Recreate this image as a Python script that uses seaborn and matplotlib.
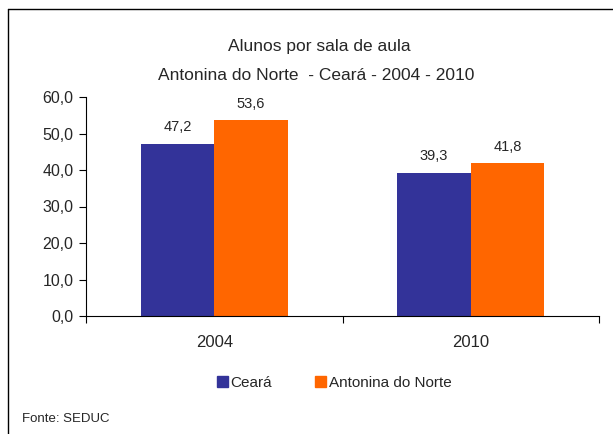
import matplotlib
matplotlib.use("Agg")
import matplotlib.pyplot as plt
import seaborn as sns
import pandas as pd
from matplotlib.lines import Line2D

years = ["2004", "2010"]
series = ["Ceará", "Antonina do Norte"]
ceara = [47.2, 39.3]
antonina = [53.6, 41.8]
yticks = [0, 10, 20, 30, 40, 50, 60]
colors = ["#333399", "#FF6600"]

df = pd.DataFrame({
    "Ano": years * 2,
    "Serie": [series[0]] * 2 + [series[1]] * 2,
    "Valor": ceara + antonina,
})

sns.set_style("white")
plt.rcParams["font.family"] = ["Liberation Sans", "DejaVu Sans"]

fig = plt.figure(figsize=(6.13, 4.34), dpi=100)
ax = fig.add_axes([86/613, 1-316/434, (599-86)/613, (316-97)/434])

sns.barplot(data=df, x="Ano", y="Valor", hue="Serie", palette=colors,
            width=0.575, gap=0, ax=ax, saturation=1, legend=False,
            edgecolor="none", linewidth=0)

for cont in ax.containers:
    ax.bar_label(cont, labels=[f"{v.get_height():.1f}".replace(".", ",") for v in cont],
                 padding=7, fontsize=10.5)

ax.set_xlim(-0.5, 1.5)
ax.set_ylim(0, 60)
ax.set_yticks(yticks)
ax.set_yticklabels([f"{v:.1f}".replace(".", ",") for v in yticks], fontsize=11.5)
ax.set_xticks([0, 1])
ax.set_xticklabels(years, fontsize=12)
ax.set_xticks([-0.5, 0.5, 1.5], minor=True)
ax.tick_params(axis="x", which="major", length=0, pad=14)
ax.tick_params(axis="x", which="minor", length=5, direction="out", width=0.8, color="black", bottom=True)
ax.tick_params(axis="y", length=5, direction="out", width=0.8, color="black", left=True, pad=4)
ax.set_xlabel("")
ax.set_ylabel("")
for s in ["top", "right"]:
    ax.spines[s].set_visible(False)
for s in ["left", "bottom"]:
    ax.spines[s].set_color("black")
    ax.spines[s].set_linewidth(0.8)

fig.text(319/613, 1-47/434, "Alunos por sala de aula", ha="center", va="center", fontsize=12.5)
fig.text(316/613, 1-75/434, "Antonina do Norte  - Ceará - 2004 - 2010", ha="center", va="center", fontsize=12.5)

handles = [plt.Rectangle((0, 0), 1, 1, color=c) for c in colors]
fig.legend(handles, series, loc="center", bbox_to_anchor=(334/613, 1-383/434), ncol=2,
           frameon=False, fontsize=11, handlelength=0.75, handleheight=0.75,
           handletextpad=0.15, columnspacing=2.8)

fig.text(22/613, 1-419/434, "Fonte: SEDUC", ha="left", va="center", fontsize=9.5)

fig.add_artist(Line2D([8/613, 8/613], [0, 1-9/434], transform=fig.transFigure, color="black", lw=1))
fig.add_artist(Line2D([8/613, 1], [1-9/434, 1-9/434], transform=fig.transFigure, color="black", lw=1))

fig.savefig("out.png", dpi=100)
